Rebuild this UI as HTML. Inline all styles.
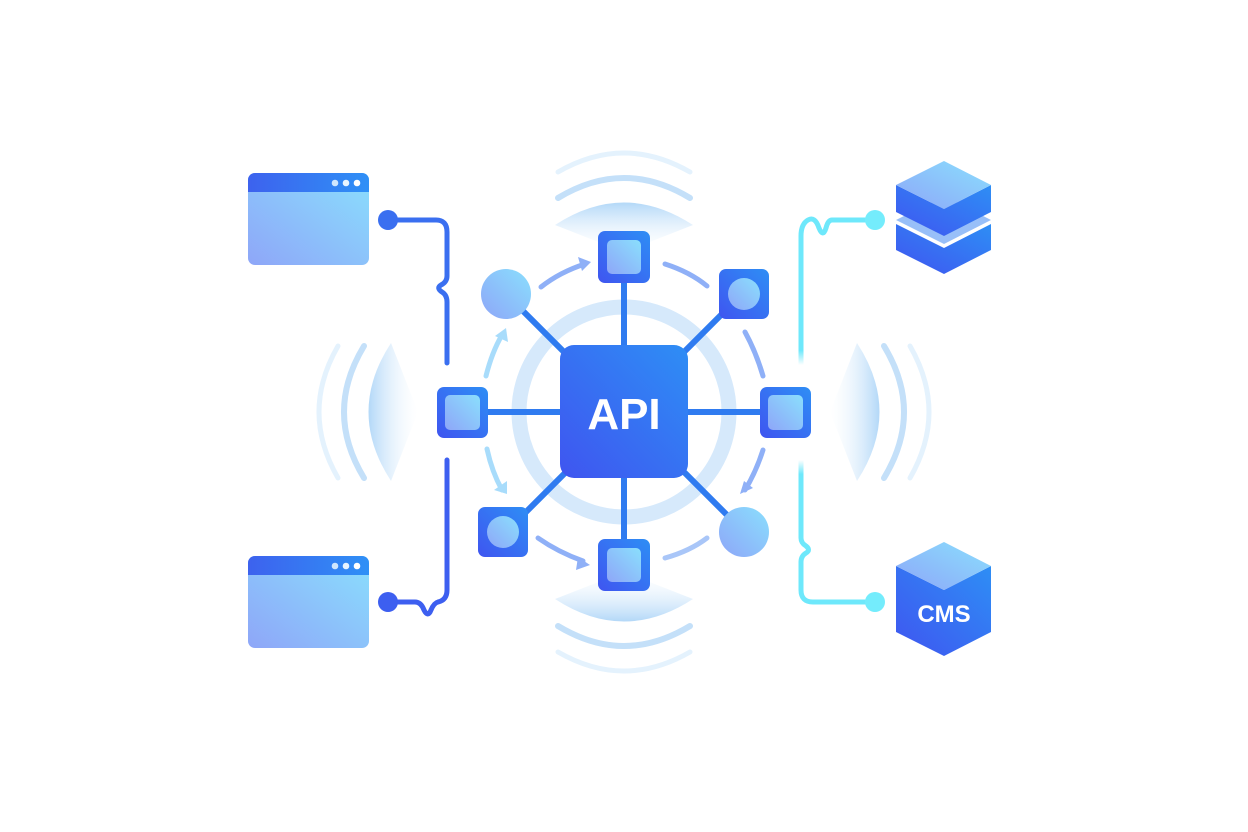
<!DOCTYPE html>
<html><head><meta charset="utf-8"><style>html,body{margin:0;padding:0;background:#fff}svg{display:block}</style></head>
<body>
<svg width="1248" height="832" viewBox="0 0 1248 832" xmlns="http://www.w3.org/2000/svg">
<defs>
<linearGradient id="blue" x1="0" y1="1" x2="1" y2="0"><stop offset="0" stop-color="#3f55f0"/><stop offset="1" stop-color="#2e8ef5"/></linearGradient>
<linearGradient id="light" x1="0" y1="1" x2="1" y2="0"><stop offset="0" stop-color="#8ea6f8"/><stop offset="1" stop-color="#8adffd"/></linearGradient>
<linearGradient id="hdr" x1="0" y1="0" x2="1" y2="0"><stop offset="0" stop-color="#3d62ee"/><stop offset="1" stop-color="#2f90f6"/></linearGradient>
<linearGradient id="lens" x1="0" y1="0" x2="0" y2="1"><stop offset="0" stop-color="#b3d8f8"/><stop offset="1" stop-color="#ffffff" stop-opacity="0.2"/></linearGradient>
<linearGradient id="cyanfade" x1="0" y1="0" x2="0" y2="1"><stop offset="0" stop-color="#6ee8fb"/><stop offset="0.9" stop-color="#6ee8fb"/><stop offset="1" stop-color="#6ee8fb" stop-opacity="0"/></linearGradient>
<linearGradient id="cyanfade2" x1="0" y1="1" x2="0" y2="0"><stop offset="0" stop-color="#6ee8fb"/><stop offset="0.9" stop-color="#6ee8fb"/><stop offset="1" stop-color="#6ee8fb" stop-opacity="0"/></linearGradient>
<g id="wave">
<path d="M-69,-187 Q0,-232 69,-187 L0,-160 Z" fill="url(#lens)"/>
<path d="M-66,-214 Q0,-254 66,-214" fill="none" stroke="#c4e0f9" stroke-width="6" stroke-linecap="round"/>
<path d="M-66,-240 Q0,-278 66,-240" fill="none" stroke="#e4f2fd" stroke-width="5" stroke-linecap="round"/>
</g>
</defs>

<use href="#wave" transform="translate(624,412)"/>
<use href="#wave" transform="translate(624,412) rotate(180)"/>
<use href="#wave" transform="translate(624,412) rotate(-90) translate(0,-46)"/>
<use href="#wave" transform="translate(624,412) rotate(90) translate(0,-46)"/>

<circle cx="624" cy="412" r="105" fill="none" stroke="#d6e9fb" stroke-width="15"/>

<g fill="none" stroke="#8fb0f7" stroke-width="5" stroke-linecap="round">
<path d="M541,287 Q560,272 585,264"/>
<path d="M665,264 Q690,272 707,286"/>
<path d="M745,332 Q756,352 763,376"/>
<path d="M763,450 Q756,472 745,490"/>
<path d="M707,538 Q690,551 665,558" stroke="#a9c6f8"/>
<path d="M538,538 Q558,552 583,561"/>
<path d="M487,449 Q492,472 502,490" stroke="#a8dcfb"/>
<path d="M486,376 Q492,352 502,335" stroke="#a8dcfb"/>
</g>
<g fill="#8fb0f7">
<polygon points="591,262 578,257 582,271"/>
<polygon points="506,328 495,336 508,342" fill="#a8dcfb"/>
<polygon points="507,494 494,490 507,481" fill="#a8dcfb"/>
<polygon points="590,565 576,570 578,557"/>
<polygon points="740,494 753,488 744,481"/>
</g>

<g stroke="#2f7bf0" stroke-width="6">
<line x1="624" y1="283" x2="624" y2="350"/>
<line x1="624" y1="475" x2="624" y2="540"/>
<line x1="488" y1="412" x2="562" y2="412"/>
<line x1="686" y1="412" x2="760" y2="412"/>
<line x1="520" y1="308" x2="568" y2="356"/>
<line x1="728" y1="308" x2="680" y2="356"/>
<line x1="520" y1="518" x2="568" y2="470"/>
<line x1="732" y1="520" x2="680" y2="468"/>
</g>

<rect x="560" y="345" width="128" height="133" rx="14" fill="url(#blue)"/>
<text x="624" y="429" text-anchor="middle" font-family="Liberation Sans, sans-serif" font-weight="bold" font-size="44" fill="#fff">API</text>

<g>
<rect x="598" y="231" width="52" height="52" rx="7" fill="url(#blue)"/><rect x="607" y="240" width="34" height="34" rx="5" fill="url(#light)"/>
<rect x="598" y="539" width="52" height="52" rx="7" fill="url(#blue)"/><rect x="607" y="548" width="34" height="34" rx="5" fill="url(#light)"/>
<rect x="437" y="387" width="51" height="51" rx="7" fill="url(#blue)"/><rect x="445" y="395" width="35" height="35" rx="5" fill="url(#light)"/>
<rect x="760" y="387" width="51" height="51" rx="7" fill="url(#blue)"/><rect x="768" y="395" width="35" height="35" rx="5" fill="url(#light)"/>
<rect x="719" y="269" width="50" height="50" rx="7" fill="url(#blue)"/><circle cx="744" cy="294" r="16" fill="url(#light)"/>
<rect x="478" y="507" width="50" height="50" rx="7" fill="url(#blue)"/><circle cx="503" cy="532" r="16" fill="url(#light)"/>
<circle cx="506" cy="294" r="25" fill="url(#light)"/>
<circle cx="744" cy="532" r="25" fill="url(#light)"/>
</g>

<g>
<rect x="248" y="173" width="121" height="92" rx="7" fill="url(#light)"/>
<path d="M255,173 H362 A7,7 0 0 1 369,180 V192 H248 V180 A7,7 0 0 1 255,173Z" fill="url(#hdr)"/>
<circle cx="335" cy="183" r="3.3" fill="#cfe6fd"/><circle cx="346" cy="183" r="3.3" fill="#e8f4ff"/><circle cx="357" cy="183" r="3.3" fill="#fff"/>
<rect x="248" y="556" width="121" height="92" rx="7" fill="url(#light)"/>
<path d="M255,556 H362 A7,7 0 0 1 369,563 V575 H248 V563 A7,7 0 0 1 255,556Z" fill="url(#hdr)"/>
<circle cx="335" cy="566" r="3.3" fill="#cfe6fd"/><circle cx="346" cy="566" r="3.3" fill="#e8f4ff"/><circle cx="357" cy="566" r="3.3" fill="#fff"/>
</g>

<g fill="none" stroke="#3a6ff0" stroke-width="5" stroke-linecap="round">
<path d="M388,220 H436 Q447,220 447,232 V276 Q447,282 441,285 Q436,288 442,292 Q447,295 447,302 V363"/>
<path d="M447,460 V590 Q447,600 438,602 Q434,603 431,610 Q428,618 424,610 Q421,602 415,602 H388" stroke="#3d5ff0"/>
</g>
<circle cx="388" cy="220" r="10" fill="#3a6ff0"/>
<circle cx="388" cy="602" r="10" fill="#3d5ff0"/>

<g fill="none" stroke-width="5" stroke-linecap="round">
<path d="M875,220 H832 Q828,220 826,228 Q823,238 819,228 Q815,216 808,220 Q801,224 801,236 V365" stroke="url(#cyanfade)"/>
<path d="M801,460 V538 Q801,543 806,546 Q811,550 806,553 Q801,556 801,562 V590 Q801,602 813,602 H875" stroke="url(#cyanfade2)"/>
</g>
<circle cx="875" cy="220" r="10" fill="#74ecfc"/>
<circle cx="875" cy="602" r="10" fill="#74ecfc"/>

<g>
<polygon points="896,220 944,196 991,220 944,244" fill="#98bff8"/>
<polygon points="896,224 944,248 991,224 991,250 944,274 896,250" fill="url(#blue)"/>
<polygon points="896,185 944,209 991,185 991,212 944,236 896,212" fill="url(#blue)"/>
<polygon points="944,161 991,185 944,209 896,185" fill="url(#light)"/>
</g>

<g>
<polygon points="896,566 944,590 991,566 991,632 944,656 896,632" fill="url(#blue)"/>
<polygon points="944,542 991,566 944,590 896,566" fill="url(#light)"/>
<text x="944" y="622" text-anchor="middle" font-family="Liberation Sans, sans-serif" font-weight="bold" font-size="24" fill="#fff">CMS</text>
</g>
</svg>
</body></html>
